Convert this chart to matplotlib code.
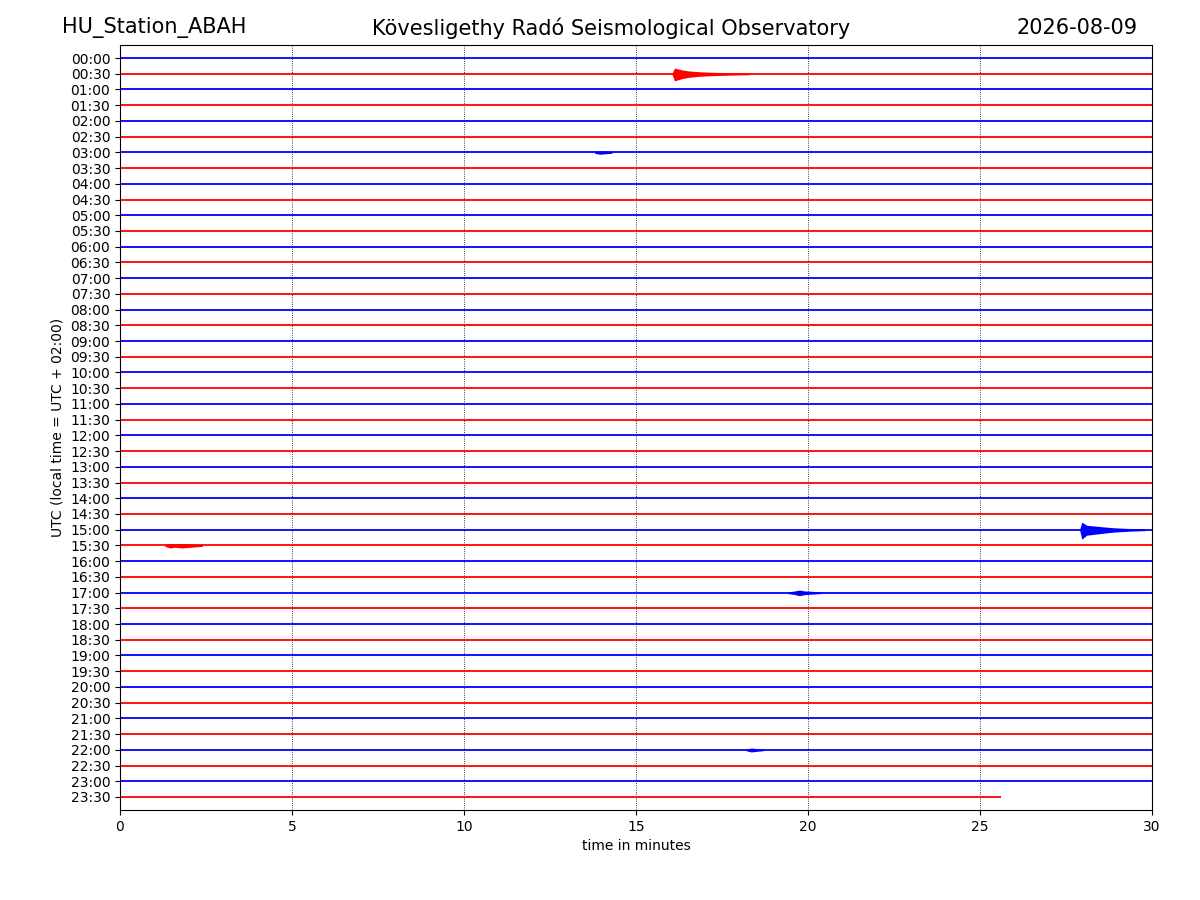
import matplotlib
matplotlib.use('Agg')
import matplotlib.pyplot as plt
import numpy as np

station = 'HU_Station_ABAH'
observatory = 'Kövesligethy Radó Seismological Observatory'
day = '2026-08-09'

# row labels, one trace every 30 minutes
row_labels = ['%02d:%02d' % (h, m) for h in range(24) for m in (0, 30)]
row_colors = ['blue', 'red']
last_trace_end = 25.6  # minutes, the last trace is cut short

# events: row label, times (min), envelope (row units)
event_rows = ['00:30', '15:00', '15:30', '17:00', '22:00', '03:00']
event_times = [
    [16.05, 16.12, 16.2, 16.35, 16.55, 16.85, 17.2, 17.7, 18.3],
    [27.9, 27.96, 28.1, 28.3, 28.6, 28.9, 29.3, 29.8],
    [1.3, 1.45, 1.6, 1.8, 2.0, 2.2, 2.4],
    [19.4, 19.6, 19.75, 19.9, 20.1, 20.4],
    [18.2, 18.35, 18.5, 18.7],
    [13.8, 13.95, 14.1, 14.3],
]
event_amps = [
    [0.06, 0.45, 0.40, 0.30, 0.22, 0.16, 0.12, 0.09, 0.06],
    [0.06, 0.60, 0.35, 0.30, 0.22, 0.15, 0.10, 0.06],
    [0.06, 0.16, 0.12, 0.16, 0.13, 0.09, 0.06],
    [0.06, 0.12, 0.20, 0.13, 0.10, 0.06],
    [0.06, 0.14, 0.10, 0.06],
    [0.06, 0.12, 0.09, 0.06],
]

fig = plt.figure(figsize=(12, 9), dpi=100)
ax = fig.add_axes([0.1, 0.1, 0.86, 0.85])

for i, lab in enumerate(row_labels):
    c = row_colors[i % 2]
    x_end = last_trace_end if i == len(row_labels) - 1 else 30
    ax.plot([0, x_end], [i, i], color=c, lw=1.3, solid_capstyle='butt')

for row, t, a in zip(event_rows, event_times, event_amps):
    i = row_labels.index(row)
    c = row_colors[i % 2]
    t = np.array(t)
    a = np.array(a)
    ax.fill_between(t, i - a * 0.8, i + a, color=c, lw=0)

ax.set_xlim(0, 30)
ax.set_ylim(len(row_labels) - 1 + 0.83, -0.83)
ax.set_yticks(range(len(row_labels)))
ax.set_yticklabels(row_labels)
ax.set_xticks(range(0, 31, 5))
ax.grid(axis='x', color='black', linestyle=':', linewidth=0.6)
ax.set_axisbelow(True)
ax.set_xlabel('time in minutes')
ax.set_ylabel('UTC (local time = UTC + 02:00)')

fig.text(0.052, 0.969, station, fontsize=15, ha='left', va='center')
fig.text(0.509, 0.969, observatory, fontsize=15, ha='center', va='center')
fig.text(0.948, 0.969, day, fontsize=15, ha='right', va='center')

fig.savefig('out.png', dpi=100)
